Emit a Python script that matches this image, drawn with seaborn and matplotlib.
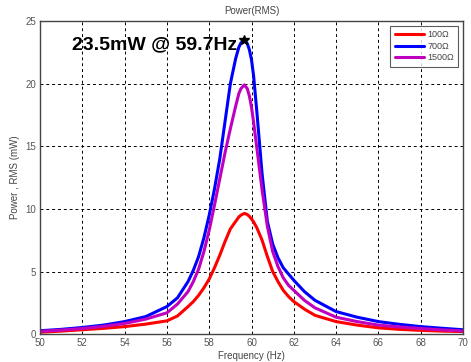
import pandas as pd
import matplotlib
matplotlib.use("Agg")
import matplotlib.pyplot as plt
import seaborn as sns

# frequency points (Hz)
freq = [50, 51, 52, 53, 54, 55, 56, 56.5, 57, 57.25, 57.5, 57.75, 58, 58.25,
        58.5, 58.75, 59, 59.25, 59.4, 59.5, 59.66, 59.8, 59.9, 60, 60.1, 60.25,
        60.5, 60.75, 61, 61.25, 61.5, 61.75, 62, 62.5, 63, 64, 65, 66, 67, 68,
        69, 70]

# power (mW) per load
p_100 = [0.15, 0.24, 0.35, 0.46, 0.6, 0.8, 1.06, 1.45, 2.2, 2.6, 3.1, 3.7, 4.4,
         5.3, 6.3, 7.4, 8.4, 9.0, 9.35, 9.5, 9.64, 9.55, 9.4, 9.2, 8.95, 8.5,
         7.5, 6.2, 5.0, 4.2, 3.5, 3.0, 2.6, 2.0, 1.5, 1.0, 0.72, 0.5, 0.38, 0.3,
         0.24, 0.2]
p_700 = [0.27, 0.38, 0.53, 0.72, 1.0, 1.4, 2.2, 2.9, 4.2, 5.1, 6.2, 7.7, 9.5,
         11.6, 14.0, 17.0, 20.0, 22.0, 22.9, 23.25, 23.5, 23.2, 22.7, 21.9,
         20.6, 17.8, 12.8, 9.0, 7.2, 6.1, 5.3, 4.8, 4.3, 3.4, 2.7, 1.8, 1.35,
         1.0, 0.78, 0.6, 0.47, 0.35]
p_1500 = [0.22, 0.32, 0.45, 0.62, 0.85, 1.2, 1.7, 2.4, 3.4, 4.2, 5.2, 6.6, 8.3,
          10.3, 12.4, 14.5, 16.4, 18.2, 19.2, 19.6, 19.9, 19.6, 19.0, 18.1,
          16.9, 14.9, 11.5, 8.6, 6.6, 5.4, 4.5, 3.9, 3.5, 2.7, 2.1, 1.35, 1.0,
          0.72, 0.57, 0.45, 0.34, 0.25]

loads = ["100Ω", "700Ω", "1500Ω"]
colors = ["#ff0000", "#0000ff", "#bf00bf"]

peak_f = 59.66
peak_p = 23.5

df = pd.concat([
    pd.DataFrame({"freq": freq, "power": p, "load": name})
    for p, name in zip([p_100, p_700, p_1500], loads)
])

sns.set_style("white")
plt.rcParams["font.family"] = ["Liberation Sans", "DejaVu Sans"]

fig = plt.figure(figsize=(4.71, 3.62), dpi=100)
ax = fig.add_axes([0.085, 0.077, 0.898, 0.865])

sns.lineplot(data=df, x="freq", y="power", hue="load", hue_order=loads,
             palette=colors, linewidth=2.2, sort=False, ax=ax)

ax.plot([peak_f], [peak_p], marker="*", color="black", markersize=7)
ax.text(51.5, 23.1, "23.5mW @ 59.7Hz", fontsize=14, fontweight="bold",
        va="center", ha="left", color="black")

ax.set_xlim(50, 70)
ax.set_ylim(0, 25)
ax.set_xticks(range(50, 71, 2))
ax.set_yticks(range(0, 26, 5))
ax.grid(True, color="black", linestyle=(0, (3, 3)), linewidth=0.7)
for s in ax.spines.values():
    s.set_color("#444444")
    s.set_linewidth(1.0)
ax.tick_params(labelsize=7, labelcolor="#555555", length=0, pad=3)

ax.set_title("Power(RMS)", fontsize=7, color="#444444", pad=5)
ax.set_xlabel("Frequency (Hz)", fontsize=7, color="#444444", labelpad=2)
ax.set_ylabel("Power , RMS (mW)", fontsize=7, color="#444444", labelpad=4)

leg = ax.legend(loc="upper right", fontsize=6.5, handlelength=3.2,
                frameon=True, fancybox=False, borderpad=0.5, labelspacing=0.3,
                handletextpad=0.4)
leg.get_frame().set_edgecolor("#333333")
leg.get_frame().set_linewidth(0.8)
for t in leg.get_texts():
    t.set_color("#444444")

fig.savefig("out.png", dpi=100)
